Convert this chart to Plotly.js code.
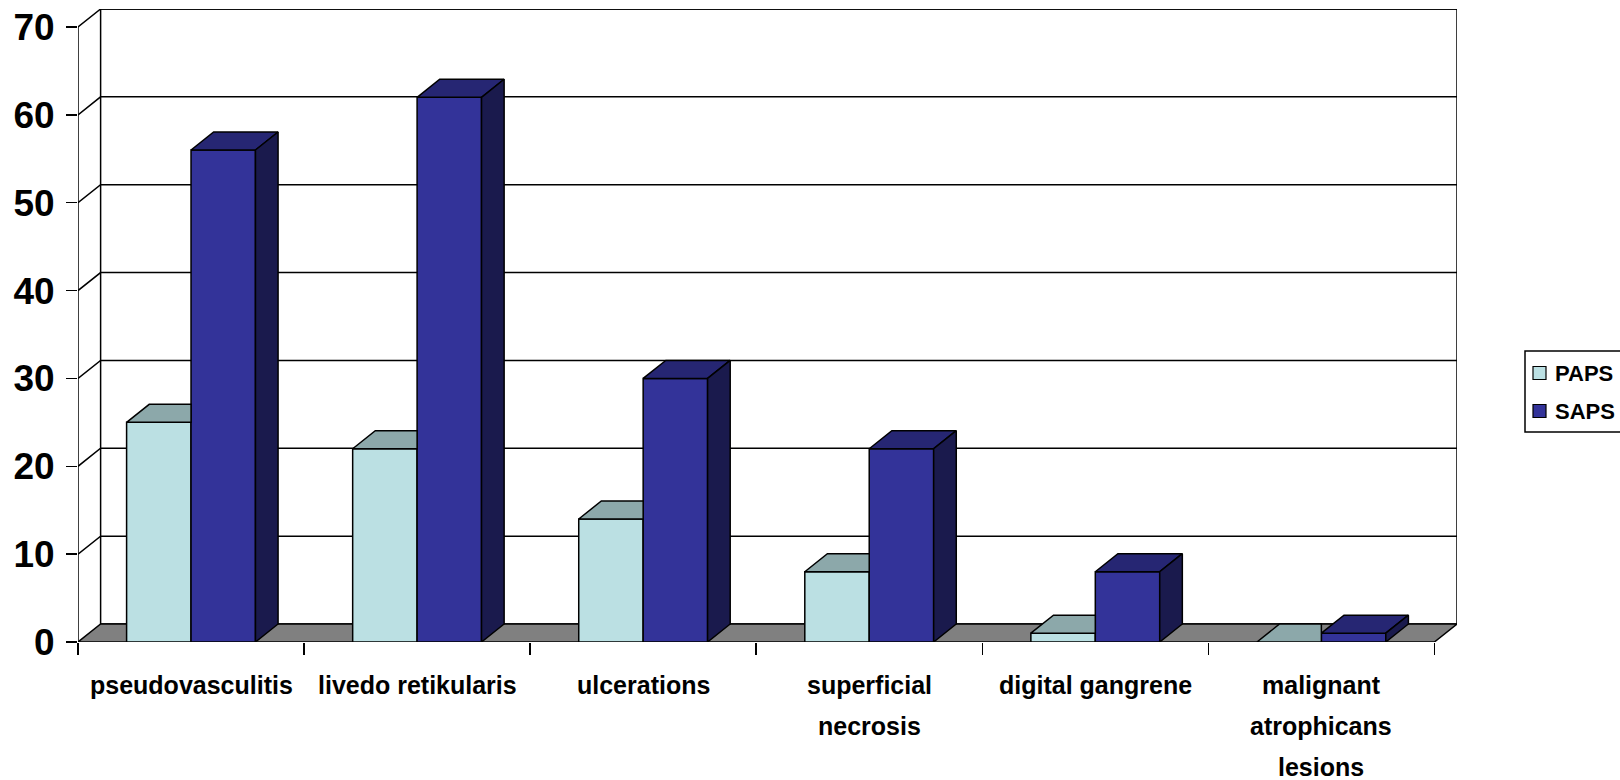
<!DOCTYPE html>
<html>
<head>
<meta charset="utf-8">
<script src="https://cdn.plot.ly/plotly-3.0.1.min.js"></script>
<style>html,body{margin:0;padding:0;background:#fff;}</style>
</head>
<body>
<div id="chart" style="width:1620px;height:780px;"></div>
<script>
// Category labels, one entry per line of each label
const categoryLines = [
  ['pseudovasculitis'],
  ['livedo retikularis'],
  ['ulcerations'],
  ['superficial', 'necrosis'],
  ['digital gangrene'],
  ['malignant', 'atrophicans', 'lesions']
];
const seriesNames = ['PAPS', 'SAPS'];
const papsValues = [25, 22, 14, 8, 1, 0];
const sapsValues = [56, 62, 30, 22, 8, 1];
const yTickValues = [0, 10, 20, 30, 40, 50, 60, 70];

// Pseudo-3D geometry (depth offsets in axis units)
const DX = 0.1;
const DY = 2.05;
const BAR_W = 0.285;
const Y_MAX = yTickValues[yTickValues.length - 1];
const N = categoryLines.length;
const X_LO = -0.5, X_HI = N - 0.5;

// Page / plot-area geometry in pixels
const W = 1620, H = 780;
const M = {l: 78, r: 163, t: 9, b: 138};
const PW = W - M.l - M.r, PH = H - M.t - M.b;

const FONT = 'Liberation Sans, Arial, Helvetica, sans-serif';
const LINE = {color: '#000000', width: 1.5};
const seriesColors = ['#BBE0E3', '#333399'];

function shade(hex, f) {
  const v = parseInt(hex.slice(1), 16);
  const r = Math.round(((v >> 16) & 255) * f);
  const g = Math.round(((v >> 8) & 255) * f);
  const b = Math.round((v & 255) * f);
  return '#' + [r, g, b].map(c => c.toString(16).padStart(2, '0')).join('');
}

// Collect closed polygons into one fill trace, separated by gaps
function polyTrace(polys, fill) {
  const x = [], y = [];
  polys.forEach(p => {
    p.forEach(pt => { x.push(pt[0]); y.push(pt[1]); });
    x.push(p[0][0]); y.push(p[0][1]);
    x.push(null); y.push(null);
  });
  return {
    type: 'scatter', mode: 'lines', x: x, y: y,
    fill: 'toself', fillcolor: fill, line: LINE,
    hoverinfo: 'skip', showlegend: false
  };
}

const xs = categoryLines.map((_, i) => i);

// Front faces of the bars
const barPaps = {
  type: 'bar', name: seriesNames[0],
  x: xs, y: papsValues, width: BAR_W, offset: -BAR_W,
  marker: {color: seriesColors[0], line: LINE}
};
const barSaps = {
  type: 'bar', name: seriesNames[1],
  x: xs, y: sapsValues, width: BAR_W, offset: 0,
  marker: {color: seriesColors[1], line: LINE}
};

// Top faces (PAPS top is cut where the SAPS bar stands in front of it)
const papsTops = papsValues.map((v, i) => {
  const x0 = i - BAR_W, x1 = i;
  return [[x0, v], [x1, v], [x1, v + DY], [x0 + DX, v + DY]];
});
const sapsTops = sapsValues.map((v, i) => {
  const x0 = i, x1 = i + BAR_W;
  return [[x0, v], [x1, v], [x1 + DX, v + DY], [x0 + DX, v + DY]];
});
const sapsSides = sapsValues.map((v, i) => {
  const x1 = i + BAR_W;
  return [[x1, 0], [x1, v], [x1 + DX, v + DY], [x1 + DX, DY]];
});

const traces = [
  barPaps, barSaps,
  polyTrace(papsTops, shade(seriesColors[0], 0.75)),
  polyTrace(sapsTops, shade(seriesColors[1], 0.75)),
  polyTrace(sapsSides, shade(seriesColors[1], 0.5))
];

// Walls, floor and gridlines
function path(pts, close) {
  return pts.map((p, k) => (k ? 'L' : 'M') + p[0] + ',' + p[1]).join(' ') + (close ? ' Z' : '');
}
const shapes = [];
shapes.push({
  type: 'rect', xref: 'x', yref: 'y', layer: 'below',
  x0: X_LO + DX, x1: X_HI + DX, y0: DY, y1: Y_MAX + DY,
  fillcolor: '#ffffff', line: LINE
});
yTickValues.filter(g => g > 0).forEach(g => {
  shapes.push({
    type: 'path', xref: 'x', yref: 'y', layer: 'below',
    path: path([[X_LO, g], [X_LO + DX, g + DY], [X_HI + DX, g + DY]], false),
    line: LINE
  });
});
shapes.push({
  type: 'path', xref: 'x', yref: 'y', layer: 'below',
  path: path([[X_LO, 0], [X_HI, 0], [X_HI + DX, DY], [X_LO + DX, DY]], true),
  fillcolor: '#808080', line: LINE
});
shapes.push({
  type: 'line', xref: 'x', yref: 'y', layer: 'below',
  x0: X_LO, x1: X_LO, y0: 0, y1: Y_MAX, line: LINE
});

// Category labels below the floor
const annotations = [];
categoryLines.forEach((lines, i) => {
  lines.forEach((txt, j) => {
    annotations.push({
      x: i, y: 0, xref: 'x', yref: 'y',
      text: txt, showarrow: false,
      xanchor: 'center', yanchor: 'middle',
      yshift: -(43 + 41 * j),
      font: {family: FONT, size: 25, weight: 'bold', color: '#000'}
    });
  });
});

// Legend box at the right edge of the page (pixel layout -> paper units)
const px = v => (v - M.l) / PW;
const py = v => 1 - (v - M.t) / PH;
const LEG = {left: 1525, top: 351, bottom: 432, right: 1640, row0: 373, rowStep: 38, sw: 13, swLeft: 1533, textLeft: 1553};
shapes.push({
  type: 'rect', xref: 'paper', yref: 'paper', layer: 'above',
  x0: px(LEG.left), x1: px(LEG.right), y0: py(LEG.bottom), y1: py(LEG.top),
  fillcolor: '#ffffff', line: LINE
});
seriesNames.forEach((name, k) => {
  const cy = LEG.row0 + k * LEG.rowStep;
  shapes.push({
    type: 'rect', xref: 'paper', yref: 'paper', layer: 'above',
    x0: px(LEG.swLeft), x1: px(LEG.swLeft + LEG.sw),
    y0: py(cy + LEG.sw / 2), y1: py(cy - LEG.sw / 2),
    fillcolor: seriesColors[k], line: {color: '#000', width: 1.2}
  });
  annotations.push({
    x: px(LEG.textLeft), y: py(cy), xref: 'paper', yref: 'paper',
    text: name, showarrow: false, xanchor: 'left', yanchor: 'middle',
    font: {family: FONT, size: 22, weight: 'bold', color: '#000'}
  });
});

const tickBounds = [];
for (let b = X_LO; b <= X_HI + 1e-9; b += 1) tickBounds.push(b);

const layout = {
  width: W, height: H,
  margin: {l: M.l, r: M.r, t: M.t, b: M.b, autoexpand: false},
  paper_bgcolor: '#ffffff', plot_bgcolor: '#ffffff',
  barmode: 'overlay',
  showlegend: false,
  xaxis: {
    range: [X_LO, X_HI + DX], showgrid: false, zeroline: false, showline: false,
    tickmode: 'array', tickvals: tickBounds, showticklabels: false,
    ticks: 'outside', ticklen: 12, tickwidth: 1.5, tickcolor: '#000'
  },
  yaxis: {
    range: [0, Y_MAX + DY], showgrid: false, zeroline: false, showline: false,
    tickmode: 'array', tickvals: yTickValues,
    ticks: 'outside', ticklen: 11, tickwidth: 1.5, tickcolor: '#000',
    ticklabelstandoff: 4,
    tickfont: {family: FONT, size: 37, weight: 'bold', color: '#000'}
  },
  shapes: shapes,
  annotations: annotations
};

Plotly.newPlot('chart', traces, layout, {displayModeBar: false, staticPlot: true});
</script>
</body>
</html>
